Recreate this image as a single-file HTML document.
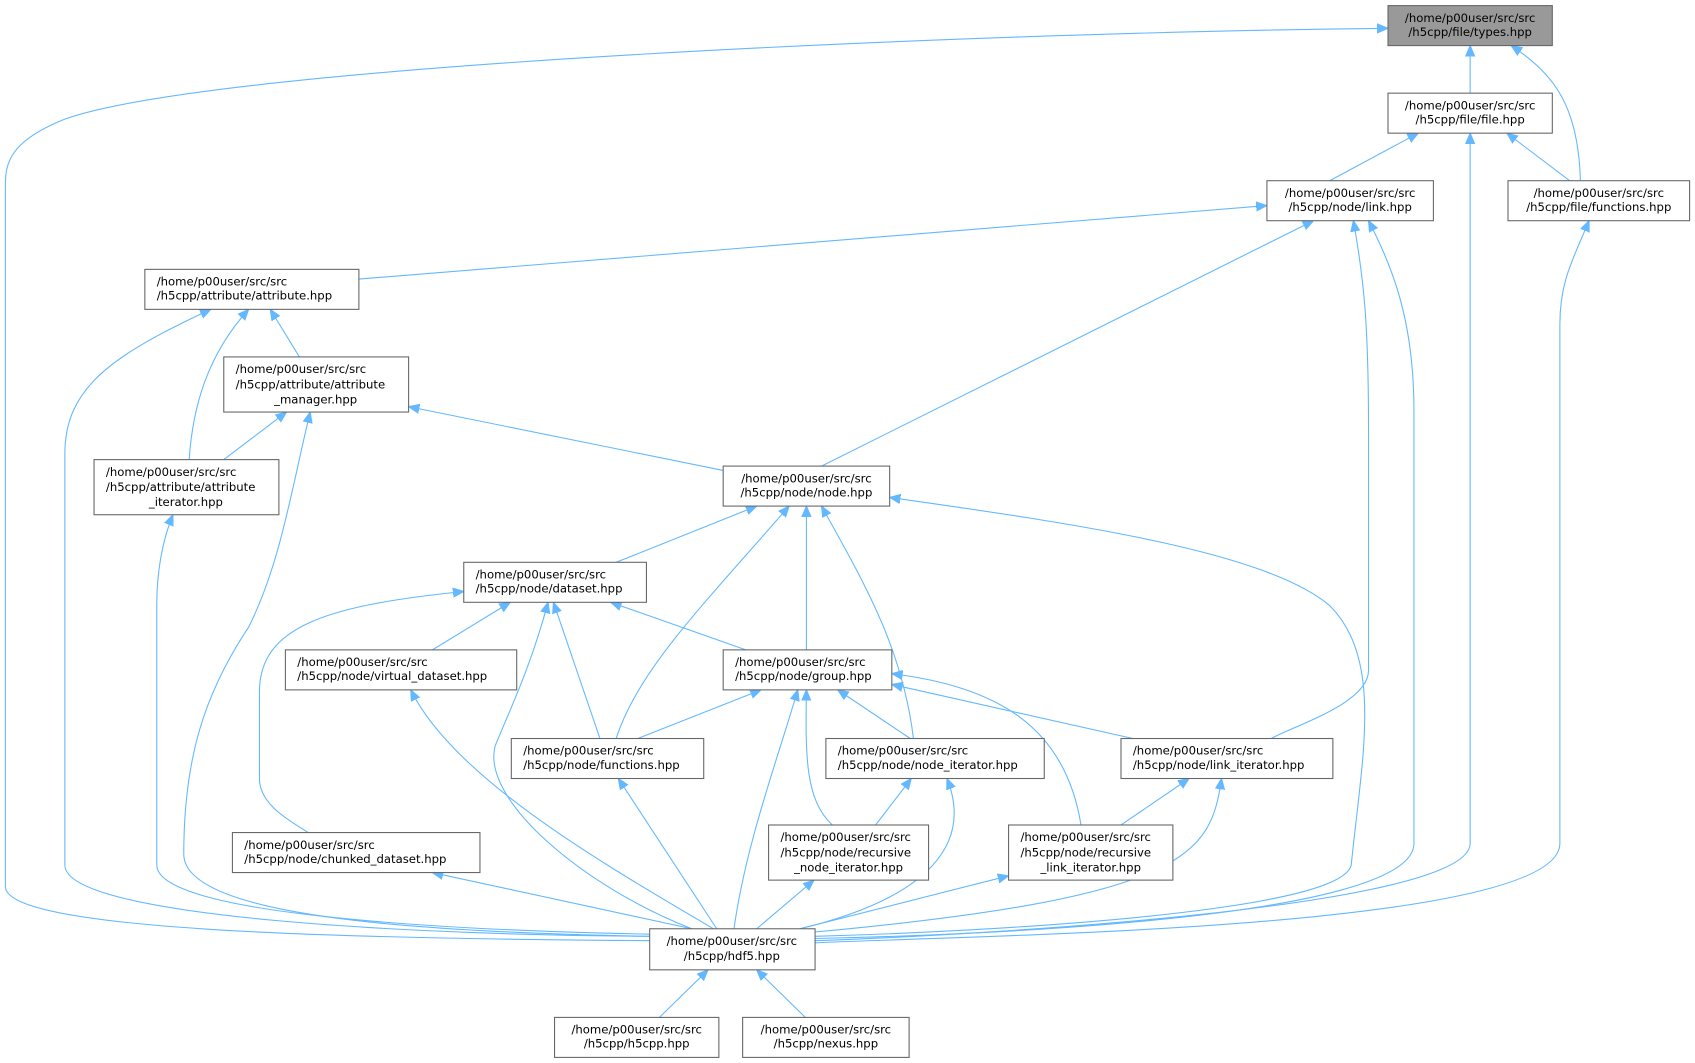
<!DOCTYPE html>
<html><head><meta charset="utf-8"><style>
html,body{margin:0;padding:0;background:#fff;}
svg{display:block;}
text{font-family:"DejaVu Sans","Liberation Sans",sans-serif;font-size:10.8px;fill:#000;}
.b{fill:#fff;stroke:#666;stroke-width:1;}
.e path{fill:none;stroke:#63b8ff;stroke-width:1;marker-start:url(#a);}
</style></head><body>
<svg width="1695" height="1063" viewBox="0 0 1568 983" xmlns="http://www.w3.org/2000/svg">
<defs><marker id="a" viewBox="0 0 10 10" refX="0" refY="5" markerWidth="10" markerHeight="10" markerUnits="userSpaceOnUse" orient="auto"><path d="M0,5 L10,0.8 L10,9.2 Z" fill="#63b8ff" stroke="#63b8ff"/></marker></defs>
<g class="e">
<path d="M1284,26 C900,30 200,60 60,110 C10,130 5,150 5,170 L5,820 C5,860 300,868 601,870"/>
<path d="M1360,42 L1360,86"/>
<path d="M1398,42 C1440,70 1460,100 1462,167"/>
<path d="M1312,123 L1230,167"/>
<path d="M1394,123 L1452,167"/>
<path d="M1360,123 L1360,780 C1360,840 900,865 754,870"/>
<path d="M1470,204 C1455,240 1443,260 1443,300 L1443,780 C1443,860 900,865 754,872"/>
<path d="M1172,190 L332,258"/>
<path d="M1215,204 L760,431"/>
<path d="M1252,204 C1262,260 1266,300 1266,400 L1266,620 C1266,650 1200,670 1176,683"/>
<path d="M1266,204 C1290,250 1308,300 1308,380 L1308,780 C1308,850 900,865 754,868"/>
<path d="M195,286 C100,330 60,360 60,420 L60,800 C60,850 400,865 601,866"/>
<path d="M230,286 C190,330 178,380 175,425"/>
<path d="M250,286 L277,330"/>
<path d="M265,381 L207,425"/>
<path d="M378,376 L669,435"/>
<path d="M287,381 C270,450 260,520 230,580 C190,640 170,700 170,790 C170,850 400,862 601,866"/>
<path d="M160,476 C150,500 145,530 145,560 L145,800 C145,845 400,860 601,864"/>
<path d="M700,468 L570,520"/>
<path d="M746,468 L746,601"/>
<path d="M730,468 C650,560 590,620 570,683"/>
<path d="M760,468 C800,540 835,600 845,683"/>
<path d="M823,460 C1000,485 1170,510 1230,560 C1280,610 1260,700 1250,800 C1240,845 900,862 754,866"/>
<path d="M429,547 C300,560 240,580 240,640 L240,720 C240,745 270,760 285,770"/>
<path d="M472,557 L400,601"/>
<path d="M565,557 L690,601"/>
<path d="M512,557 L555,683"/>
<path d="M507,557 C490,620 470,660 458,690 C445,740 540,820 640,859"/>
<path d="M704,638 L590,683"/>
<path d="M775,638 L842,683"/>
<path d="M825,633 L1048,683"/>
<path d="M746,638 C745,700 745,740 770,763"/>
<path d="M825,623 C920,635 985,670 1000,763"/>
<path d="M738,638 C720,700 690,780 679,859"/>
<path d="M380,638 C420,720 560,800 660,859"/>
<path d="M572,720 L663,859"/>
<path d="M843,720 L810,763"/>
<path d="M876,720 C900,780 860,830 740,859"/>
<path d="M1100,720 L1037,763"/>
<path d="M1130,720 C1120,790 1100,830 754,862"/>
<path d="M400,807 L640,859"/>
<path d="M753,814 L700,859"/>
<path d="M933,810 L740,859"/>
<path d="M655,897 L610,941"/>
<path d="M700,897 L745,941"/>
</g>
<g>
<rect x="1284" y="5" width="152" height="37" fill="#999" stroke="#666"/>
<text x="1360" y="20" text-anchor="middle">/home/p00user/src/src</text><text x="1360" y="33" text-anchor="middle">/h5cpp/file/types.hpp</text>
<rect class="b" x="1284" y="86" width="152" height="37"/>
<text x="1360" y="101" text-anchor="middle">/home/p00user/src/src</text><text x="1360" y="114" text-anchor="middle">/h5cpp/file/file.hpp</text>
<rect class="b" x="1172" y="167" width="154" height="37"/>
<text x="1249" y="182" text-anchor="middle">/home/p00user/src/src</text><text x="1249" y="195" text-anchor="middle">/h5cpp/node/link.hpp</text>
<rect class="b" x="1395" y="167" width="168" height="37"/>
<text x="1479" y="182" text-anchor="middle">/home/p00user/src/src</text><text x="1479" y="195" text-anchor="middle">/h5cpp/file/functions.hpp</text>
<rect class="b" x="134" y="249" width="198" height="37"/>
<text x="145" y="264">/home/p00user/src/src</text><text x="145" y="277">/h5cpp/attribute/attribute.hpp</text>
<rect class="b" x="207" y="330" width="171" height="51"/>
<text x="218" y="345">/home/p00user/src/src</text><text x="218" y="359">/h5cpp/attribute/attribute</text><text x="292" y="373" text-anchor="middle">_manager.hpp</text>
<rect class="b" x="87" y="425" width="171" height="51"/>
<text x="98" y="440">/home/p00user/src/src</text><text x="98" y="454">/h5cpp/attribute/attribute</text><text x="172" y="468" text-anchor="middle">_iterator.hpp</text>
<rect class="b" x="669" y="431" width="154" height="37"/>
<text x="746" y="446" text-anchor="middle">/home/p00user/src/src</text><text x="746" y="459" text-anchor="middle">/h5cpp/node/node.hpp</text>
<rect class="b" x="429" y="520" width="169" height="37"/>
<text x="440" y="535">/home/p00user/src/src</text><text x="440" y="548">/h5cpp/node/dataset.hpp</text>
<rect class="b" x="264" y="601" width="214" height="37"/>
<text x="275" y="616">/home/p00user/src/src</text><text x="275" y="629">/h5cpp/node/virtual_dataset.hpp</text>
<rect class="b" x="669" y="601" width="156" height="37"/>
<text x="680" y="616">/home/p00user/src/src</text><text x="680" y="629">/h5cpp/node/group.hpp</text>
<rect class="b" x="473" y="683" width="178" height="37"/>
<text x="484" y="698">/home/p00user/src/src</text><text x="484" y="711">/h5cpp/node/functions.hpp</text>
<rect class="b" x="764" y="683" width="202" height="37"/>
<text x="775" y="698">/home/p00user/src/src</text><text x="775" y="711">/h5cpp/node/node_iterator.hpp</text>
<rect class="b" x="1037" y="683" width="196" height="37"/>
<text x="1048" y="698">/home/p00user/src/src</text><text x="1048" y="711">/h5cpp/node/link_iterator.hpp</text>
<rect class="b" x="215" y="770" width="229" height="37"/>
<text x="226" y="785">/home/p00user/src/src</text><text x="226" y="798">/h5cpp/node/chunked_dataset.hpp</text>
<rect class="b" x="711" y="763" width="148" height="51"/>
<text x="722" y="778">/home/p00user/src/src</text><text x="722" y="792">/h5cpp/node/recursive</text><text x="785" y="806" text-anchor="middle">_node_iterator.hpp</text>
<rect class="b" x="933" y="763" width="152" height="51"/>
<text x="944" y="778">/home/p00user/src/src</text><text x="944" y="792">/h5cpp/node/recursive</text><text x="1009" y="806" text-anchor="middle">_link_iterator.hpp</text>
<rect class="b" x="601" y="859" width="153" height="38"/>
<text x="677" y="874" text-anchor="middle">/home/p00user/src/src</text><text x="677" y="888" text-anchor="middle">/h5cpp/hdf5.hpp</text>
<rect class="b" x="513" y="941" width="152" height="37"/>
<text x="589" y="956" text-anchor="middle">/home/p00user/src/src</text><text x="589" y="969" text-anchor="middle">/h5cpp/h5cpp.hpp</text>
<rect class="b" x="687" y="941" width="154" height="37"/>
<text x="764" y="956" text-anchor="middle">/home/p00user/src/src</text><text x="764" y="969" text-anchor="middle">/h5cpp/nexus.hpp</text>
</g>
</svg>
</body></html>
